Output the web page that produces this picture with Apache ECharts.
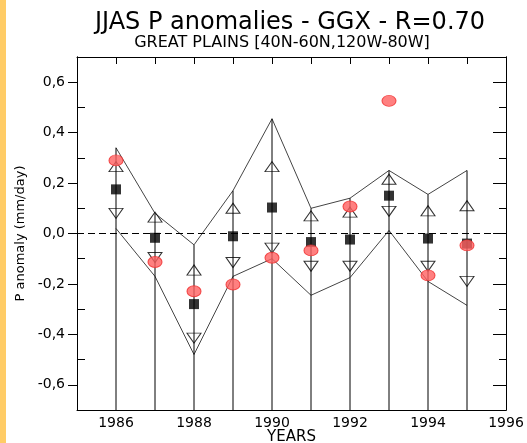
<!DOCTYPE html>
<html>
<head>
<meta charset="utf-8">
<script src="https://cdn.jsdelivr.net/npm/echarts@6/dist/echarts.min.js"></script>
<style>
  html, body { margin: 0; padding: 0; background: #fff; }
  #strip { position: absolute; left: 0; top: 0; width: 6px; height: 443px; background: #ffcc66; }
  #main { width: 527px; height: 443px; }
</style>
</head>
<body>
<div id="strip"></div>
<div id="main"></div>
<script>
// years and values
var years    = [1986, 1987, 1988, 1989, 1990, 1991, 1992, 1993, 1994, 1995];
var upperEnv = [0.34, 0.08, -0.045, 0.17, 0.455, 0.10, 0.14, 0.25, 0.155, 0.25];
var lowerEnv = [0.02, -0.17, -0.48, -0.17, -0.10, -0.245, -0.175, 0.012, -0.19, -0.285];
var upTri    = [0.265, 0.065, -0.145, 0.10, 0.265, 0.07, 0.085, 0.215, 0.09, 0.11];
var downTri  = [0.08, -0.095, -0.415, -0.115, -0.058, -0.13, -0.13, 0.088, -0.13, -0.19];
var meanVal  = [0.175, -0.017, -0.28, -0.011, 0.103, -0.034, -0.024, 0.15, -0.02, -0.04];
var observed = [0.29, -0.113, -0.229, -0.202, -0.096, -0.067, 0.107, 0.526, -0.166, -0.047];

// tick positions
var yMajor = [-0.6, -0.4, -0.2, 0, 0.2, 0.4, 0.6];
var yMinor = [-0.7, -0.5, -0.3, -0.1, 0.1, 0.3, 0.5, 0.7];
var yAll   = [-0.7, -0.6, -0.5, -0.4, -0.3, -0.2, -0.1, 0, 0.1, 0.2, 0.3, 0.4, 0.5, 0.6, 0.7];

function pairs(arr) {
    var out = [];
    for (var i = 0; i < years.length; i++) {
        out.push([years[i], arr[i]]);
    }
    return out;
}

var chart = echarts.init(document.getElementById('main'));
var font = 'DejaVu Sans, Liberation Sans, sans-serif';

// extra y axes only carry tick marks
function tickAxis(pos, values, len, inside) {
    return {
        type: 'value', min: -0.7, max: 0.7, position: pos,
        axisLine: { show: true, onZero: false, lineStyle: { color: '#000' } },
        axisTick: { show: true, inside: inside, length: len, customValues: values, lineStyle: { color: '#000' } },
        axisLabel: { show: false },
        splitLine: { show: false }
    };
}

var option = {
    animation: false,
    title: [
        {
            text: 'JJAS P anomalies - GGX - R=0.70',
            left: 285, top: 6, textAlign: 'center',
            textStyle: { fontFamily: font, fontSize: 24, fontWeight: 'normal', color: '#000' }
        },
        {
            text: 'GREAT PLAINS [40N-60N,120W-80W]',
            left: 277, top: 30, textAlign: 'center',
            textStyle: { fontFamily: font, fontSize: 16, fontWeight: 'normal', color: '#000' }
        }
    ],
    grid: { left: 77, right: 21, top: 57, bottom: 33, containLabel: false, outerBoundsMode: 'none' },
    xAxis: [
        {
            type: 'value', min: 1985, max: 1996, interval: 1,
            name: 'YEARS', nameLocation: 'middle', nameGap: 20, nameMoveOverlap: false,
            nameTextStyle: { fontFamily: font, fontSize: 15, color: '#000' },
            axisLine: { onZero: false, lineStyle: { color: '#000' } },
            axisTick: { show: false },
            splitLine: { show: false },
            axisLabel: {
                fontFamily: font, fontSize: 14, color: '#000', margin: 6,
                formatter: function (v) { return v % 2 === 0 ? String(v) : ''; }
            }
        },
        {
            type: 'value', min: 1985, max: 1996, interval: 1, position: 'top',
            axisLine: { onZero: false, lineStyle: { color: '#000' } },
            axisTick: { inside: true, length: 7, lineStyle: { color: '#000' } },
            axisLabel: { show: false },
            splitLine: { show: false }
        }
    ],
    yAxis: [
        {
            type: 'value', min: -0.7, max: 0.7,
            name: 'P anomaly (mm/day)', nameLocation: 'middle', nameGap: 40,
            nameTextStyle: { fontFamily: font, fontSize: 13, color: '#000' },
            axisLine: { onZero: false, lineStyle: { color: '#000' } },
            axisTick: { show: true, length: 9, customValues: yMajor, lineStyle: { color: '#000' } },
            splitLine: { show: false },
            axisLabel: {
                fontFamily: font, fontSize: 14, color: '#000', margin: 12,
                customValues: yMajor,
                formatter: function (v) { return v.toFixed(1).replace('.', ','); }
            }
        },
        tickAxis('left', yMinor, 8, true),
        tickAxis('right', yAll, 7, true),
        tickAxis('right', yMajor, 13, true)
    ],
    series: [
        {
            type: 'line', data: pairs(upperEnv), symbol: 'none',
            lineStyle: { color: '#444', width: 1 }, z: 2
        },
        {
            type: 'line', data: pairs(lowerEnv), symbol: 'none',
            lineStyle: { color: '#444', width: 1 }, z: 2,
            markLine: {
                silent: true, symbol: 'none', label: { show: false },
                lineStyle: { color: '#000', type: [7, 4], width: 1 },
                data: [{ yAxis: 0 }]
            }
        },
        {
            // stems from the bottom up to the upper envelope
            type: 'custom', z: 3,
            data: pairs(upperEnv),
            renderItem: function (params, api) {
                var top = api.coord([api.value(0), api.value(1)]);
                var bot = api.coord([api.value(0), -0.7]);
                return {
                    type: 'line',
                    shape: { x1: top[0], y1: top[1], x2: bot[0], y2: bot[1] },
                    style: { stroke: '#000', lineWidth: 1 }
                };
            }
        },
        {
            type: 'scatter', data: pairs(upTri), symbol: 'triangle', symbolSize: [14, 10],
            itemStyle: { color: 'rgba(255,255,255,0)', borderColor: '#000', borderWidth: 1 }, z: 4
        },
        {
            type: 'scatter', data: pairs(downTri), symbol: 'triangle', symbolRotate: 180, symbolSize: [14, 10],
            itemStyle: { color: 'rgba(255,255,255,0)', borderColor: '#000', borderWidth: 1 }, z: 4
        },
        {
            type: 'scatter', data: pairs(meanVal), symbol: 'rect', symbolSize: 10,
            itemStyle: { color: '#000' }, z: 5
        },
        {
            type: 'scatter', data: pairs(observed), symbol: 'circle', symbolSize: [14, 11],
            itemStyle: { color: '#ff6060', borderColor: '#f03030', borderWidth: 1 }, z: 6
        }
    ]
};
chart.setOption(option);
</script>
</body>
</html>
